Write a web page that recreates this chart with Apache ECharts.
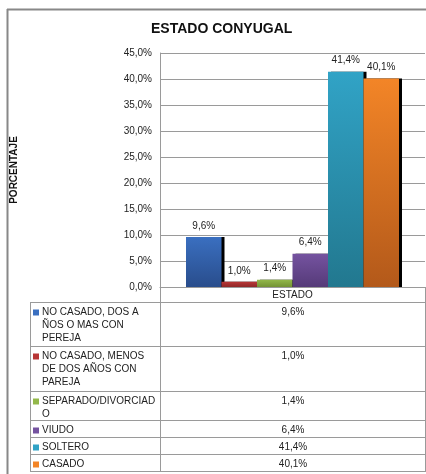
<!DOCTYPE html>
<html>
<head>
<meta charset="utf-8">
<script src="https://cdn.jsdelivr.net/npm/echarts@6/dist/echarts.min.js"></script>
<style>
  html, body { margin: 0; padding: 0; background: #fff; }
  #chart { width: 426px; height: 474px; }
</style>
</head>
<body>
<div id="chart"></div>
<script>
// datos del gráfico
var categorias = ['ESTADO'];
var estados = [
  'NO CASADO, DOS AÑOS O MAS CON PEREJA',
  'NO CASADO, MENOS DE DOS AÑOS CON PAREJA',
  'SEPARADO/DIVORCIADO',
  'VIUDO',
  'SOLTERO',
  'CASADO'
];
// texto de la tabla tal como aparece partido en la imagen
var etiquetasTabla = [
  'NO CASADO, DOS A\nÑOS O MAS CON\nPEREJA',
  'NO CASADO, MENOS\nDE DOS AÑOS CON\nPAREJA',
  'SEPARADO/DIVORCIAD\nO',
  'VIUDO',
  'SOLTERO',
  'CASADO'
];
var porcentajes = [9.6, 1.0, 1.4, 6.4, 41.4, 40.1];
var ticksY = [0, 5, 10, 15, 20, 25, 30, 35, 40, 45];

var coloresArriba = ['#3a6fc0', '#b83636', '#93b84a', '#7553a0', '#31a3c6', '#f38527'];
var coloresAbajo = ['#294d8c', '#8f2828', '#739234', '#553a78', '#22788f', '#b3591a'];

function fmt(v) {
  return v.toFixed(1).replace('.', ',') + '%';
}

var FONT = '"Liberation Sans", Arial, sans-serif';
var LINEA = '#9a9a9a';

var series = estados.map(function (nombre, i) {
  return {
    name: nombre,
    type: 'bar',
    barWidth: 35.5,
    barGap: '0%',
    data: [porcentajes[i]],
    itemStyle: {
      color: new echarts.graphic.LinearGradient(0, 0, 0, 1, [
        { offset: 0, color: coloresArriba[i] },
        { offset: 1, color: coloresAbajo[i] }
      ]),
      shadowColor: '#000',
      shadowBlur: 0,
      shadowOffsetX: 3,
      shadowOffsetY: 0
    },
    label: {
      show: true,
      position: 'top',
      distance: 6,
      color: '#222',
      fontFamily: FONT,
      fontSize: 10,
      formatter: function (p) { return fmt(p.value); }
    }
  };
});

// tabla de datos debajo del gráfico
var filas = [302, 346, 391, 420, 437, 454, 471];
var xIzq = 30, xMed = 160, xDer = 425;
var graficos = [];

function linea(x1, y1, x2, y2, color, ancho) {
  graficos.push({
    type: 'line',
    shape: { x1: x1, y1: y1, x2: x2, y2: y2 },
    style: { stroke: color || LINEA, lineWidth: ancho || 1 },
    silent: true
  });
}

// marco exterior
linea(7, 9.5, 426, 9.5, '#888', 2);
linea(7.5, 9, 7.5, 474, '#888', 2);

// celda del encabezado y bordes
linea(xMed + 0.5, 287, xMed + 0.5, filas[6] + 0.5);
linea(xDer + 0.5, 287, xDer + 0.5, filas[6] + 0.5);
linea(xIzq + 0.5, filas[0], xIzq + 0.5, filas[6] + 0.5);
filas.forEach(function (y) {
  linea(xIzq, y + 0.5, xDer + 1, y + 0.5);
});

etiquetasTabla.forEach(function (txt, i) {
  var y0 = filas[i];
  graficos.push({
    type: 'rect',
    shape: { x: 33, y: y0 + 7.5, width: 6, height: 6 },
    style: { fill: coloresArriba[i] },
    silent: true
  });
  graficos.push({
    type: 'text',
    x: 42,
    y: y0 + 4,
    style: {
      text: txt,
      fill: '#222',
      font: '10px ' + FONT,
      lineHeight: 13,
      textVerticalAlign: 'top'
    },
    silent: true
  });
  graficos.push({
    type: 'text',
    x: (xMed + xDer) / 2 + 0.5,
    y: y0 + 4,
    style: {
      text: fmt(porcentajes[i]),
      fill: '#222',
      font: '10px ' + FONT,
      lineHeight: 13,
      textAlign: 'center',
      textVerticalAlign: 'top'
    },
    silent: true
  });
});

var chart = echarts.init(document.getElementById('chart'), null, { renderer: 'canvas' });

chart.setOption({
  animation: false,
  backgroundColor: '#fff',
  title: {
    text: 'ESTADO CONYUGAL',
    left: 146,
    top: 17,
    textStyle: {
      fontFamily: FONT,
      fontSize: 14,
      fontWeight: 'bold',
      color: '#111'
    }
  },
  grid: {
    left: 160,
    right: 1,
    top: 53,
    bottom: 187
  },
  xAxis: {
    type: 'category',
    data: categorias,
    axisLine: { lineStyle: { color: LINEA } },
    axisTick: { show: false },
    axisLabel: {
      margin: 3,
      color: '#222',
      fontFamily: FONT,
      fontSize: 10
    }
  },
  yAxis: {
    type: 'value',
    min: ticksY[0],
    max: ticksY[ticksY.length - 1],
    interval: 5,
    name: 'PORCENTAJE',
    nameLocation: 'middle',
    nameRotate: 90,
    nameGap: 141,
    nameTextStyle: {
      fontFamily: FONT,
      fontSize: 10,
      fontWeight: 'bold',
      color: '#111'
    },
    axisLine: { show: true, lineStyle: { color: LINEA } },
    axisTick: { show: false },
    splitLine: { lineStyle: { color: LINEA } },
    axisLabel: {
      margin: 8,
      color: '#222',
      fontFamily: FONT,
      fontSize: 10,
      formatter: function (v) { return fmt(v); }
    }
  },
  series: series,
  graphic: graficos
});
</script>
</body>
</html>
